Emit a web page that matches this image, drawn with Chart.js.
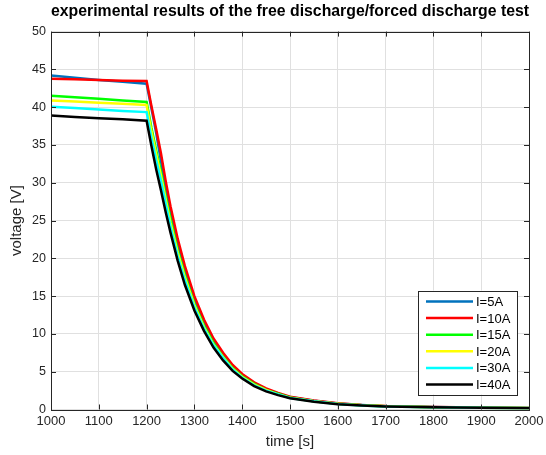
<!DOCTYPE html>
<html>
<head>
<meta charset="utf-8">
<script src="https://cdn.jsdelivr.net/npm/chart.js@4"></script>
<style>
  html, body { margin: 0; padding: 0; background: #fff; }
  #wrap { width: 546px; height: 455px; }
</style>
</head>
<body>
<div id="wrap"><canvas id="dischargeChart" width="546" height="455"></canvas></div>
<script>
// time samples [s]
var times = [1000, 1050, 1100, 1150, 1200, 1210, 1220, 1230, 1240, 1250, 1265, 1280, 1300, 1320, 1340, 1360, 1380, 1400, 1425, 1450, 1475, 1500, 1550, 1600, 1650, 1700, 1800, 1900, 2000];

// voltage [V] per load current
var v5A  = [44.2, 43.9, 43.6, 43.35, 43.1, 39.9, 36.6, 32.9, 29.1, 26.0, 21.8, 18.3, 14.5, 11.5, 9.1, 7.2, 5.7, 4.5, 3.5, 2.7, 2.1, 1.64, 1.16, 0.79, 0.58, 0.44, 0.32, 0.24, 0.19];
var v10A = [43.75, 43.7, 43.6, 43.5, 43.45, 40.2, 37.1, 33.9, 30.2, 26.9, 22.6, 19.0, 15.0, 11.9, 9.4, 7.5, 5.9, 4.7, 3.6, 2.8, 2.2, 1.7, 1.2, 0.82, 0.6, 0.46, 0.33, 0.25, 0.2];
var v15A = [41.5, 41.3, 41.1, 40.9, 40.7, 37.3, 34.3, 31.5, 28.2, 25.2, 21.1, 17.8, 14.0, 11.1, 8.8, 7.0, 5.5, 4.4, 3.4, 2.6, 2.1, 1.6, 1.1, 0.77, 0.56, 0.43, 0.31, 0.23, 0.19];
var v20A = [40.9, 40.75, 40.6, 40.45, 40.3, 36.8, 33.8, 31.0, 27.8, 24.7, 20.8, 17.5, 13.8, 10.9, 8.6, 6.9, 5.4, 4.3, 3.3, 2.6, 2.0, 1.56, 1.1, 0.75, 0.55, 0.42, 0.3, 0.23, 0.18];
var v30A = [40.05, 39.9, 39.7, 39.5, 39.35, 36.0, 33.0, 30.3, 27.2, 24.2, 20.3, 17.1, 13.5, 10.7, 8.5, 6.8, 5.3, 4.2, 3.2, 2.5, 2.0, 1.53, 1.08, 0.74, 0.54, 0.41, 0.3, 0.22, 0.18];
var v40A = [38.9, 38.7, 38.55, 38.4, 38.2, 34.9, 31.8, 29.0, 26.1, 23.4, 19.7, 16.5, 13.1, 10.4, 8.2, 6.5, 5.1, 4.1, 3.1, 2.4, 1.9, 1.48, 1.04, 0.71, 0.52, 0.4, 0.29, 0.22, 0.17];

var seriesNames = ['I=5A', 'I=10A', 'I=15A', 'I=20A', 'I=30A', 'I=40A'];
var seriesValues = [v5A, v10A, v15A, v20A, v30A, v40A];
var seriesColors = ['#0072BD', '#FF0000', '#00FF00', '#FFFF00', '#00FFFF', '#000000'];

var axisColor = '#262626';
var font = 'Liberation Sans, Arial, Helvetica, sans-serif';

function toPoints(vals) {
  return vals.map(function(v, i) { return { x: times[i], y: v }; });
}

var datasets = seriesValues.map(function(vals, i) {
  return {
    label: seriesNames[i],
    data: toPoints(vals),
    borderColor: seriesColors[i],
    backgroundColor: seriesColors[i],
    borderWidth: 2.5,
    pointRadius: 0,
    tension: 0,
    fill: false,
    order: seriesNames.length - i   // later series drawn on top, like matlab
  };
});

// box around the axes + inward ticks on all four sides
var boxPlugin = {
  id: 'matlabBox',
  afterDraw: function(chart) {
    var ctx = chart.ctx, a = chart.chartArea;
    var xs = chart.scales.x, ys = chart.scales.y;
    ctx.save();
    ctx.strokeStyle = axisColor;
    ctx.lineWidth = 1;
    ctx.beginPath();
    xs.ticks.forEach(function(t) {
      var px = Math.round(xs.getPixelForValue(t.value)) + 0.5;
      ctx.moveTo(px, a.bottom); ctx.lineTo(px, a.bottom - 5);
      ctx.moveTo(px, a.top); ctx.lineTo(px, a.top + 5);
    });
    ys.ticks.forEach(function(t) {
      var py = Math.round(ys.getPixelForValue(t.value)) + 0.5;
      ctx.moveTo(a.left, py); ctx.lineTo(a.left + 5, py);
      ctx.moveTo(a.right, py); ctx.lineTo(a.right - 5, py);
    });
    ctx.stroke();
    ctx.strokeRect(Math.round(a.left) + 0.5, Math.round(a.top) + 0.5, Math.round(a.right - a.left), Math.round(a.bottom - a.top));
    ctx.restore();
  }
};

// legend box in the lower right corner of the axes
var legendPlugin = {
  id: 'innerLegend',
  afterDraw: function(chart) {
    var ctx = chart.ctx, a = chart.chartArea;
    var w = 99, h = 104;
    var left = a.right - 12 - w, top = a.bottom - 15 - h;
    ctx.save();
    ctx.fillStyle = '#fff';
    ctx.fillRect(left, top, w, h);
    ctx.strokeStyle = '#262626';
    ctx.lineWidth = 1;
    ctx.strokeRect(Math.round(left) + 0.5, Math.round(top) + 0.5, w, h);
    ctx.font = '13px ' + font;
    ctx.textBaseline = 'middle';
    chart.data.datasets.forEach(function(ds, i) {
      var y = top + 11 + i * 16.6;
      ctx.strokeStyle = ds.borderColor;
      ctx.lineWidth = 2.5;
      ctx.beginPath();
      ctx.moveTo(left + 8, y);
      ctx.lineTo(left + 55, y);
      ctx.stroke();
      ctx.fillStyle = '#000';
      ctx.fillText(ds.label, left + 58, y + 1);
    });
    ctx.restore();
  }
};

new Chart(document.getElementById('dischargeChart'), {
  type: 'line',
  data: { datasets: datasets },
  plugins: [boxPlugin, legendPlugin],
  options: {
    responsive: false,
    animation: false,
    layout: { padding: { left: 0, right: 17, top: 0, bottom: 0 } },
    plugins: {
      legend: { display: false },
      tooltip: { enabled: false },
      title: {
        display: true,
        fullSize: false,
        text: 'experimental results of the free discharge/forced discharge test',
        color: '#000',
        font: { family: font, size: 16, weight: 'bold', lineHeight: 1.2 },
        padding: { top: 2.4, bottom: 10 }
      }
    },
    scales: {
      x: {
        type: 'linear',
        min: 1000,
        max: 2000,
        afterFit: function(s) { s.height = 45.5; s.paddingLeft = 0; s.paddingRight = 0; },
        ticks: { stepSize: 100, color: axisColor, padding: 4, maxRotation: 0, font: { family: font, size: 13 },
                 callback: function(v) { return String(v); } },
        grid: { color: '#e0e0e0', drawTicks: false },
        border: { display: false },
        title: { display: true, text: 'time [s]', color: axisColor, font: { family: font, size: 15 }, padding: { top: 0, bottom: 4 } }
      },
      y: {
        min: 0,
        max: 50,
        afterFit: function(s) { s.width = 51; },
        ticks: { stepSize: 5, color: axisColor, padding: 5, font: { family: font, size: 12.5 },
                 callback: function(v) { return String(v); } },
        grid: { color: '#e0e0e0', drawTicks: false },
        border: { display: false },
        title: { display: true, text: 'voltage [V]', color: axisColor, font: { family: font, size: 15 }, padding: { top: 8, bottom: 0 } }
      }
    }
  }
});
</script>
</body>
</html>
